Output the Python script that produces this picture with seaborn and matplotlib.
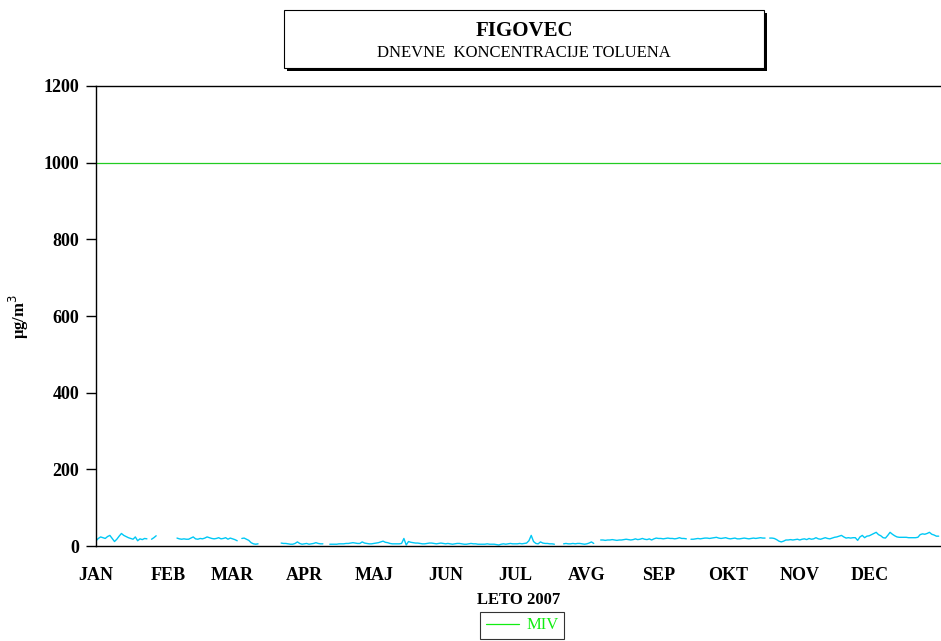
import numpy as np
import pandas as pd
import matplotlib.pyplot as plt
from matplotlib.patches import Rectangle
import seaborn as sns

# Daily toluene concentrations (ug/m3), 2007; None = no data
jan = [14, 20, 24, 22, 20, 25, 28, 20, 12, 18, 26, 33, 28, 25, 22, 20, 18, 24, 14, 19, 17, 20, 19,
       None, 18, 22, 27, None, None, None, None]
feb = [None, None, None, None, 21, 19, 18, 19, 18, 18, 21, 24, 19, 18, 20, 19, 21, 24, 22, 20, 19, 20,
       22, 19, 20, 22, 18, 21]
mar = [19, 17, 14, None, 20, 21, 18, 15, 9, 6, 5, 6, None, None, None, None, None, None, None, None,
       None, 8, 7, 7, 6, 5, 5, 7, 11, 7, 5]
apr = [6, 7, 5, 6, 7, 9, 7, 6, 6, None, None, 5, 5, 5, 5, 6, 6, 6, 7, 7, 8, 9, 8, 7, 7, 11, 8, 7, 6, 6]
maj = [7, 8, 9, 11, 13, 10, 9, 7, 6, 6, 6, 6, 7, 20, 3, 12, 10, 9, 8, 8, 7, 6, 6, 7, 8, 8, 7, 6, 7, 8, 7]
jun = [6, 7, 6, 5, 6, 7, 7, 6, 5, 5, 6, 7, 6, 6, 5, 5, 5, 5, 6, 5, 5, 5, 4, 3, 5, 6, 5, 6, 7, 6]
jul = [6, 6, 7, 6, 7, 8, 14, 28, 12, 7, 6, 11, 8, 7, 7, 6, 6, 5, None, None, None, 6, 7, 6, 6, 7, 6,
       7, 7, 6, 5]
avg = [6, 8, 11, 7, None, None, 16, 16, 15, 16, 16, 17, 16, 15, 16, 16, 17, 18, 17, 16, 17, 19, 17, 18,
       20, 18, 17, 19, 16, 19, 21]
sep = [20, 20, 19, 20, 21, 20, 20, 19, 20, 22, 20, 20, 19, None, 18, 18, 19, 20, 19, 20, 21, 21, 20,
       21, 22, 23, 21, 20, 21, 22]
okt = [20, 19, 20, 21, 19, 19, 20, 21, 20, 19, 20, 21, 20, 21, 22, 21, 21, None, 21, 21, 20, 17, 13,
       11, 13, 16, 16, 17, 16, 17, 18]
nov = [16, 18, 19, 17, 20, 18, 19, 22, 19, 18, 20, 22, 20, 19, 21, 23, 24, 26, 28, 24, 21, 22, 21, 22,
       22, 15, 24, 28, 22, 26]
dec = [27, 30, 33, 36, 30, 27, 22, 21, 28, 36, 31, 27, 24, 23, 23, 23, 23, 22, 22, 22, 22, 23, 30, 32,
       31, 33, 36, 31, 29, 26, 26]

months = ['JAN', 'FEB', 'MAR', 'APR', 'MAJ', 'JUN', 'JUL', 'AVG', 'SEP', 'OKT', 'NOV', 'DEC']
miv = 1000

values = jan + feb + mar + apr + maj + jun + jul + avg + sep + okt + nov + dec
df = pd.DataFrame({'day': np.arange(len(values)), 'toluen': pd.Series(values, dtype=float)})
# split into contiguous runs so gaps stay open
df['seg'] = df['toluen'].isna().cumsum()
df = df.dropna()

dates = pd.date_range('2007-01-01', '2007-12-31')
month_starts = [i for i, d in enumerate(dates) if d.day == 1]

sns.set_style('white')
plt.rcParams['font.family'] = ['Liberation Serif', 'DejaVu Serif']
plt.rcParams['text.color'] = 'black'
plt.rcParams['axes.labelcolor'] = 'black'
plt.rcParams['xtick.color'] = 'black'
plt.rcParams['ytick.color'] = 'black'

fig = plt.figure(figsize=(9.41, 6.41), dpi=100)
ax = fig.add_axes([0.102, 0.148, 0.898, 0.718])

sns.lineplot(data=df, x='day', y='toluen', units='seg', estimator=None,
             color='#00c8f5', linewidth=1.0, ax=ax, legend=False)
ax.axhline(miv, color='#22cc22', linewidth=0.9, label='MIV')

ax.set_xlim(0, 365)
ax.set_ylim(0, 1200)
ax.set_yticks(range(0, 1201, 200))
ax.set_xticks(month_starts)
ax.set_xticklabels(months, fontweight='bold', fontsize=13)
for lbl in ax.get_yticklabels():
    lbl.set_fontweight('bold')
    lbl.set_fontsize(13)
ax.tick_params(axis='y', direction='out', length=7, width=1, color='black', pad=5, left=True)
ax.tick_params(axis='x', length=0, pad=15)

for side in ['left', 'bottom', 'top']:
    ax.spines[side].set_color('black')
    ax.spines[side].set_linewidth(1.0)
ax.spines['right'].set_visible(False)

ax.set_xlabel('LETO 2007', fontweight='bold', fontsize=12, labelpad=6)
ax.set_ylabel('µg/m$^3$', fontweight='bold', fontsize=12, labelpad=9)

leg = ax.legend(loc='upper center', bbox_to_anchor=(0.555, 0.046), bbox_transform=fig.transFigure,
                borderaxespad=0, frameon=True, fancybox=False, fontsize=12, handlelength=2.0,
                borderpad=0.35, handletextpad=0.4)
leg.get_frame().set_edgecolor('black')
leg.get_frame().set_linewidth(0.8)
for t in leg.get_texts():
    t.set_color('#11ee11')
for h in leg.get_lines():
    h.set_color('#11ee11')

# title box with drop shadow
fig.patches.append(Rectangle((0.305, 0.889), 0.510, 0.091, transform=fig.transFigure,
                             facecolor='black', edgecolor='none'))
fig.patches.append(Rectangle((0.302, 0.894), 0.510, 0.091, transform=fig.transFigure,
                             facecolor='white', edgecolor='black', linewidth=0.8))
fig.text(0.557, 0.952, 'FIGOVEC', ha='center', va='center', fontsize=15, fontweight='bold')
fig.text(0.557, 0.917, 'DNEVNE  KONCENTRACIJE TOLUENA', ha='center', va='center', fontsize=12)

fig.savefig('out.png', dpi=100)
